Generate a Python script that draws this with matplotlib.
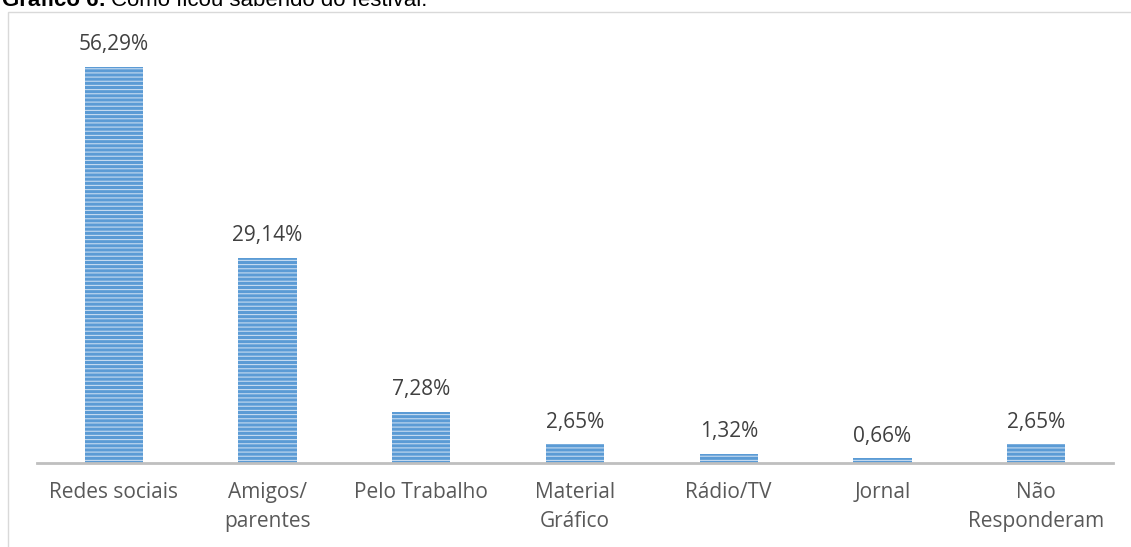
import matplotlib.pyplot as plt
from matplotlib.patches import Rectangle

categorias = ["Redes sociais", "Amigos/\nparentes", "Pelo Trabalho", "Material\nGráfico",
              "Rádio/TV", "Jornal", "Não\nResponderam"]
valores = [56.29, 29.14, 7.28, 2.65, 1.32, 0.66, 2.65]
rotulos = ["56,29%", "29,14%", "7,28%", "2,65%", "1,32%", "0,66%", "2,65%"]

plt.rcParams['font.family'] = ['Open Sans', 'DejaVu Sans']
plt.rcParams['hatch.linewidth'] = 0.8

fig = plt.figure(figsize=(11.31, 5.47), dpi=100)
ax = fig.add_axes([37/1131, 84/547, 1076/1131, 422/547])

x = range(len(categorias))
ax.bar(x, valores, width=0.38, color='#5b9bd5', edgecolor='#c5dbf1', linewidth=0,
       hatch='----')
for xi, v, r in zip(x, valores, rotulos):
    ax.annotate(r, (xi, v), xytext=(0, 12), textcoords='offset points',
                ha='center', va='baseline', fontsize=15, color='#404040')

ax.set_xlim(-0.5, 6.5)
ax.set_ylim(0, 60)
ax.set_xticks(list(x))
ax.set_xticklabels(categorias, fontsize=15, color='#595959', linespacing=1.45)
ax.tick_params(axis='x', length=0, pad=14)
ax.set_yticks([])
for s in ['top', 'right', 'left']:
    ax.spines[s].set_visible(False)
ax.spines['bottom'].set_color('#bfbfbf')
ax.spines['bottom'].set_linewidth(2)

# moldura do grafico
fig.patches.append(Rectangle((8/1131, -0.1), 1.2, 1 - 12/547 + 0.1, transform=fig.transFigure,
                             fill=False, edgecolor='#d9d9d9', linewidth=1))

# titulo (cortado no topo)
t1 = fig.text(0.002, 1 - 6/547, "Gráfico 6:", fontsize=16, fontweight='bold',
              family='Liberation Sans', va='baseline', ha='left')
fig.canvas.draw()
bb = t1.get_window_extent()
fig.text(bb.x1/1131 + 0.004, 1 - 6/547, "Como ficou sabendo do festival.", fontsize=16,
         family='Liberation Sans', va='baseline', ha='left')

fig.savefig('out.png', dpi=100)
